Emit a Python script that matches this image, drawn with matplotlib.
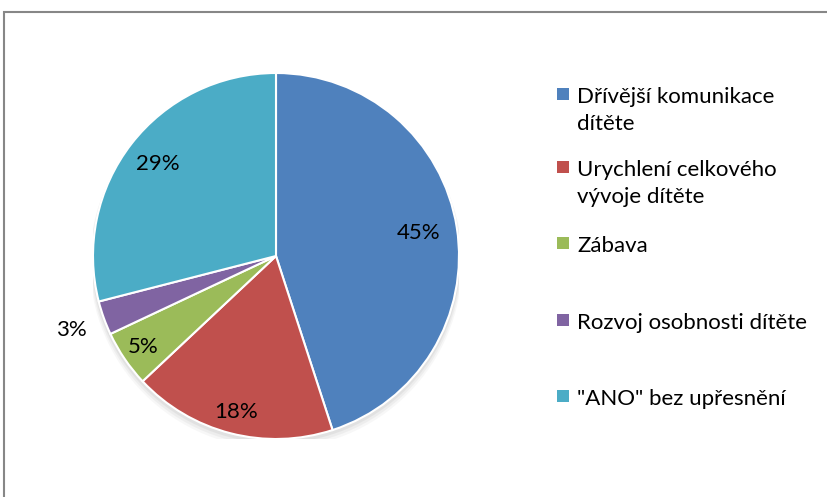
import matplotlib
matplotlib.use("Agg")
import matplotlib.pyplot as plt
from matplotlib.patches import Rectangle, Circle
import numpy as np

categories = ["Dřívější komunikace\ndítěte", "Urychlení celkového\nvývoje dítěte", "Zábava",
              "Rozvoj osobnosti dítěte", "\"ANO\" bez upřesnění"]
values = [45, 18, 5, 3, 29]
pct_labels = ["45%", "18%", "5%", "3%", "29%"]
colors = ["#4F81BD", "#C0504D", "#9BBB59", "#8064A2", "#4BACC6"]
label_r = [0.79, 0.88, 0.88, 1.19, 0.82]
legend_y = [94, 167, 243, 320, 396]  # marker centres, px from top

plt.rcParams['font.family'] = ['Lato', 'DejaVu Sans']
W, H = 828, 497
fig = plt.figure(figsize=(W/100, H/100), dpi=100)

# outer frame
fig.patches.append(Rectangle((4/W, -0.1), 1.2, (H-12)/H + 0.1, transform=fig.transFigure,
                             fill=False, edgecolor="#878787", linewidth=1.5))

cx, cy, R = 276, 256, 183
ax = fig.add_axes([(cx-R)/W, (H-cy-R)/H, 2*R/W, 2*R/H])
# soft shadow
for k, a in [(0.035, 0.06), (0.025, 0.08), (0.015, 0.10)]:
    ax.add_patch(Circle((0, -k), 1.0 + k/2, facecolor='#808080', edgecolor='none', alpha=a, zorder=0))
wedges, _ = ax.pie(values, colors=colors, startangle=90, counterclock=False,
                   wedgeprops=dict(edgecolor="white", linewidth=1.5, zorder=2), radius=1.0)
ax.set_xlim(-1.0, 1.0); ax.set_ylim(-1.0, 1.0)
ax.set_aspect('equal')
ax.axis('off')

for w, lab, r in zip(wedges, pct_labels, label_r):
    ang = np.deg2rad((w.theta1 + w.theta2) / 2)
    ax.text(r*np.cos(ang), r*np.sin(ang), lab, ha='center', va='center', fontsize=16,
            color='black', zorder=5)

for cat, col, y in zip(categories, colors, legend_y):
    fig.patches.append(Rectangle((557/W, (H-y-6)/H), 12/W, 12/H, transform=fig.transFigure,
                                 facecolor=col, edgecolor='none'))
    for i, line in enumerate(cat.split("\n")):
        fig.text(577/W, (H-(y+9+i*27))/H, line, ha='left', va='baseline', fontsize=16, color='black')

fig.savefig("out.png", dpi=100)
